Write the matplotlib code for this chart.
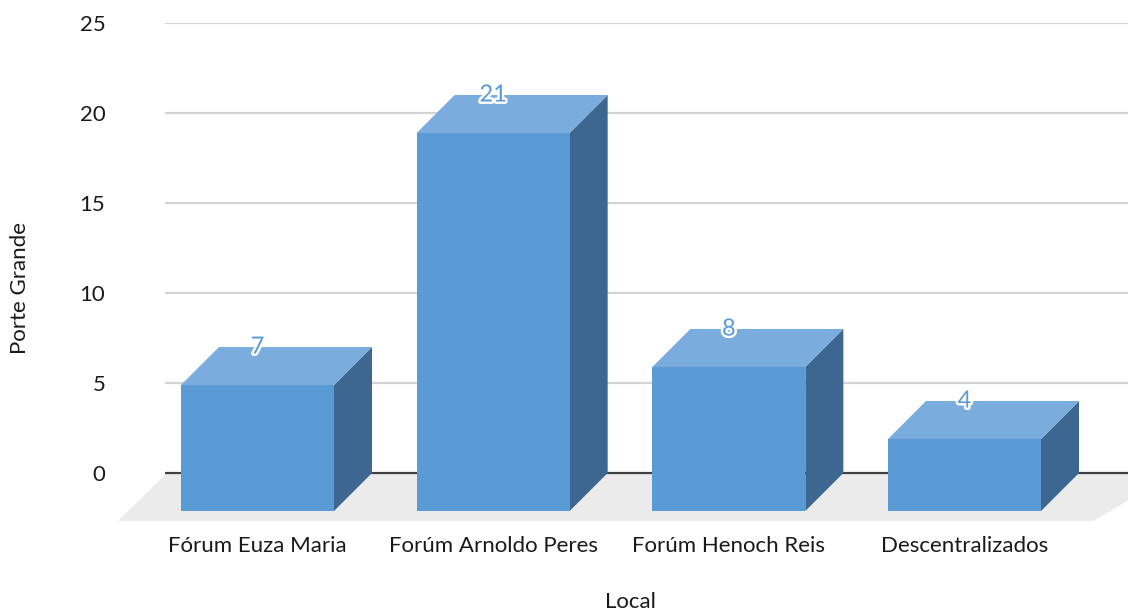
import matplotlib
matplotlib.use("Agg")
import matplotlib.pyplot as plt
import matplotlib.patheffects as pe
from matplotlib.patches import Polygon

categories = ["Fórum Euza Maria", "Forúm Arnoldo Peres", "Forúm Henoch Reis", "Descentralizados"]
values = [7, 21, 8, 4]
yticks = [0, 5, 10, 15, 20, 25]

FRONT = "#5B9BD5"
TOP = "#7AADDE"
SIDE = "#3D6791"
FLOOR = "#EBEBEB"
GRID = "#D4D4D4"
TEXT = "#1A1A1A"
FS = 16

plt.rcParams["font.family"] = ["Lato", "DejaVu Sans"]

W, H = 1128, 612
fig = plt.figure(figsize=(W / 100, H / 100), dpi=100)

# axes box in pixels: left 165, right 1128, top 23 (value 25), bottom 530
left_px, right_px, top_px, bot_px = 165, 1128, 23, 530
ax = fig.add_axes([left_px / W, 1 - bot_px / H, (right_px - left_px) / W, (bot_px - top_px) / H])

px_per_cat = 235.67
px_per_unit = 18.0
ax.set_ylim(-(bot_px - 473) / px_per_unit, 25)
ax.set_xlim((left_px - 257.5) / px_per_cat, (right_px - 257.5) / px_per_cat)

# 3-D depth offsets (data units)
DX = 38 / px_per_cat
DY = 38 / px_per_unit
FDX = 49 / px_per_cat
FDY = 48 / px_per_unit
bw = 153 / px_per_cat

# floor
x0, x1 = ax.get_xlim()
floor = Polygon([(x0 + 2 / px_per_cat, 0), (x1 + 0.2, 0),
                 (3 + bw / 2 + 52 / px_per_cat, -FDY), (x0 - FDX + 2 / px_per_cat, -FDY)],
                closed=True, facecolor=FLOOR, edgecolor="none", zorder=1, clip_on=False)
ax.add_patch(floor)

# grid
for t in yticks:
    if t == 0:
        ax.axhline(0, color="#404040", lw=1.6, zorder=2)
    else:
        ax.axhline(t, color=GRID, lw=1.6, zorder=0)

# bars
for i, v in enumerate(values):
    l, r = i - bw / 2, i + bw / 2
    front = Polygon([(l, -DY), (r, -DY), (r, v - DY), (l, v - DY)],
                    facecolor=FRONT, edgecolor="none", zorder=4)
    top = Polygon([(l, v - DY), (r, v - DY), (r + DX, v), (l + DX, v)],
                  facecolor=TOP, edgecolor="none", zorder=4)
    side = Polygon([(r, -DY), (r + DX, 0), (r + DX, v), (r, v - DY)],
                   facecolor=SIDE, edgecolor="none", zorder=4)
    for p in (side, top, front):
        ax.add_patch(p)
    ax.text(i, v, str(v), ha="center", va="center", fontsize=FS + 1, color=FRONT, zorder=6,
            path_effects=[pe.withStroke(linewidth=3.5, foreground="white")])

ax.set_yticks(yticks)
ax.set_yticklabels([str(t) for t in yticks], fontsize=FS, color=TEXT)
ax.set_xticks(range(len(categories)))
ax.set_xticklabels(categories, fontsize=FS, color=TEXT)
ax.tick_params(axis="y", length=0, pad=43)
ax.tick_params(axis="x", length=0, pad=4)
for s in ax.spines.values():
    s.set_visible(False)

ax.set_ylabel("Porte Grande", fontsize=FS, color=TEXT)
ax.yaxis.set_label_coords((20 - left_px) / (right_px - left_px), (bot_px - 288) / (bot_px - top_px))
ax.set_xlabel("Local", fontsize=FS, color=TEXT)
ax.xaxis.set_label_coords((630 - left_px) / (right_px - left_px), (bot_px - 602) / (bot_px - top_px))
ax.xaxis.label.set_va("center")
ax.yaxis.label.set_va("center")

fig.savefig("out.png", dpi=100)
